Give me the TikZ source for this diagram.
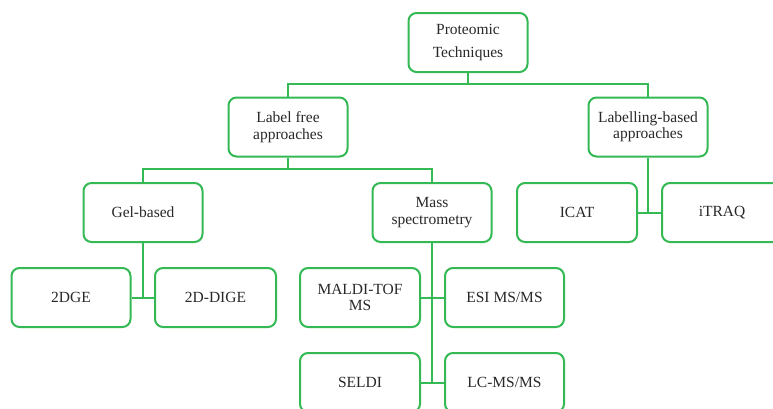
\documentclass[tikz,border=0pt]{standalone}
\usepackage{fontspec}
\setmainfont{Liberation Serif}
\definecolor{boxgreen}{RGB}{52,185,84}
\definecolor{boxtext}{RGB}{40,40,40}
\tikzset{
  x=1pt, y=-1pt,
  tbox/.style={draw=boxgreen, line width=2pt, rounded corners=8pt, fill=white,
    minimum width=119pt, minimum height=59pt, align=center, inner sep=2pt,
    text=boxtext, font=\fontsize{15.5}{16.5}\selectfont},
  link/.style={draw=boxgreen, line width=2pt}
}
\begin{document}
\begin{tikzpicture}
\useasboundingbox (0,0) rectangle (773,408);
\clip (0,0) rectangle (773,408);
\fill[white] (0,0) rectangle (773,408);

% root
\node[tbox, font=\fontsize{15.5}{23}\selectfont] (pt) at (468,42.5) {Proteomic\\Techniques};
% the two families of methods
\node[tbox] (lf) at (288,127) {Label free\\approaches};
\node[tbox] (lb) at (648,127) {Labelling-based\\approaches};
% method groups and labelling reagents
\node[tbox] (gel) at (143,212.5) {Gel-based};
\node[tbox] (ms) at (432,212.5) {Mass\\spectrometry};
\node[tbox, minimum width=120pt] (icat) at (577,212.5) {ICAT};
\node[tbox, minimum width=120pt] (itraq) at (722,212.5) {iTRAQ};
% individual techniques
\node[tbox] (dge) at (71,297.5) {2DGE};
\node[tbox, minimum width=121pt] (dige) at (215.5,297.5) {2D-DIGE};
\node[tbox, minimum width=120pt] (maldi) at (360,297.5) {MALDI-TOF\\MS};
\node[tbox] (esi) at (504.5,297.5) {ESI MS/MS};
\node[tbox, minimum width=120pt] (seldi) at (360,382.5) {SELDI};
\node[tbox] (lc) at (504.5,382.5) {LC-MS/MS};

% junction points
\coordinate (b0) at (468,84);
\coordinate (b1) at (288,169);
\coordinate (bg) at (143,297.5);
\coordinate (bm) at (432,382.5);
\coordinate (bl) at (648,212.5);

% connectors
\draw[link] (pt.south) -- (b0);
\draw[link] (lf.north) |- (b0) -| (lb.north);
\draw[link] (lf.south) -- (b1);
\draw[link] (gel.north) |- (b1) -| (ms.north);
\draw[link] (gel.south) -- (bg);
\draw[link] (dge.east) -- (dige.west);
\draw[link] (ms.south) -- (bm);
\draw[link] (maldi.east) -- (esi.west);
\draw[link] (seldi.east) -- (lc.west);
\draw[link] (lb.south) -- (bl);
\draw[link] (icat.east) -- (itraq.west);
\end{tikzpicture}
\end{document}
